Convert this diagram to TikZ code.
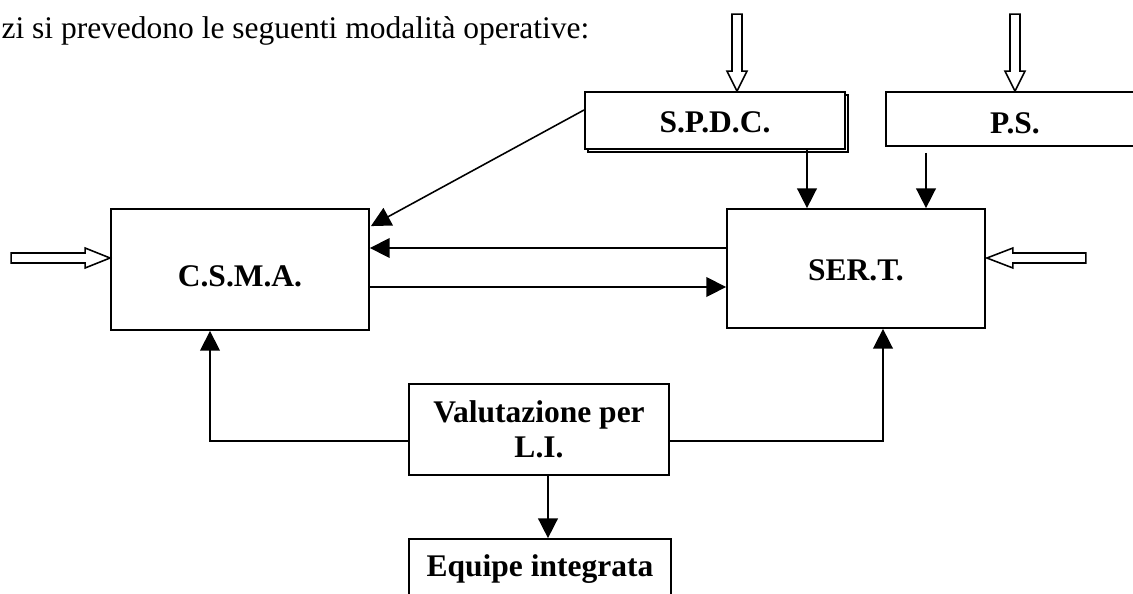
\documentclass[tikz,border=0pt]{standalone}
\usepackage{fontspec}
\setmainfont{Liberation Serif}
\usetikzlibrary{arrows.meta,shadows,calc,positioning}

\begin{document}
\begin{tikzpicture}[x=0.381pt,y=-0.381pt,
    box/.style={draw,line width=.7pt,fill=white,inner sep=0pt,font=\bfseries\fontsize{12}{13.3}\selectfont},
    cap/.style={text depth=0pt,text height=#1},
    link/.style={line width=.6pt,-{Triangle[length=7.5pt,width=7.5pt]}},
    hollow/.style={draw,line width=.6pt,fill=white}]

  \clip (0,0) rectangle (1133,593);

  % the line of text above the scheme
  \node[anchor=base west,inner sep=0pt,font=\fontsize{12}{14}\selectfont] (intro) at (1,38)
    {zi si prevedono le seguenti modalità operative:};

  % draw the services
  \node[box,cap=13.3pt,minimum width=98.3pt,minimum height=46.1pt] (csma) at (240,269.5) {C.S.M.A.};
  \node[box,cap=9.5pt,minimum width=98.3pt,minimum height=45.3pt] (sert) at (856,268.5) {SER.T.};
  \node[box,cap=9.5pt,minimum width=99.1pt,minimum height=21.7pt,
        copy shadow={shadow xshift=1.1pt,shadow yshift=-1.1pt}] (spdc) at (715,120.5) {S.P.D.C.};
  \node[box,cap=10.7pt,minimum width=98.3pt,minimum height=20.6pt] (ps) at (1015,119) {P.S.};
  \node[box,align=center,minimum width=99.1pt,minimum height=34.7pt] (val) at (539,429.5) {Valutazione per\\L.I.};
  \node[box,cap=5.7pt,minimum width=99.8pt,minimum height=23.2pt] (equipe) at (540,569.5) {Equipe integrata};

  % tips of the hollow input arrows
  \coordinate (in spdc) at ($(spdc.north)+(22,0)$);
  \coordinate (in ps)   at (ps.north);
  \coordinate (in csma) at ($(csma.west)+(0,-11.5)$);
  \coordinate (in sert) at ($(sert.east)+(1,-10.5)$);

  % draw the hollow input arrows (tip/angle/length/head)
  \foreach \tip/\ang/\len/\hl in {in spdc/-90/77/20, in ps/-90/77/20, in csma/0/99/25, in sert/180/99/26}
    \draw[hollow,shift={(\tip)},rotate=\ang]
      (0,0) -- (-\hl,10) -- (-\hl,5) -- (-\len,5) -- (-\len,-5) -- (-\hl,-5) -- (-\hl,-10) -- cycle;

  % draw the links between the services
  \draw[link] ($(spdc.west)+(0,-10.5)$) -- ($(csma.north east)+(1,18)$);
  \draw[link] ($(sert.west)+(0,-20.5)$) -- ($(csma.east)+(0,-21.5)$);
  \draw[link] ($(csma.east)+(0,17.5)$) -- ($(sert.west)+(0,18.5)$);
  \draw[link] ($(spdc.south)+(92,0)$) -- ($(sert.north)+(-49,0)$);
  \draw[link] ($(ps.south)+(-89,6)$) -- ($(sert.north)+(70,0)$);

  % the evaluation feeds both services and the team
  \draw[link] ($(val.west)+(0,11.5)$) -| ($(csma.south)+(-30,0)$);
  \draw[link] ($(val.east)+(0,11.5)$) -| ($(sert.south)+(27,0)$);
  \draw[link] ($(val.south)+(9,0)$) -- ($(equipe.north)+(8,0)$);

\end{tikzpicture}
\end{document}
